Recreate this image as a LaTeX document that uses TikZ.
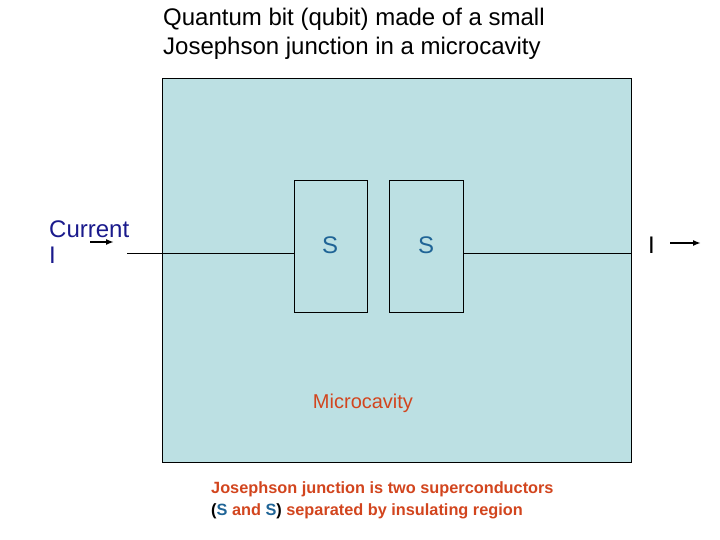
\documentclass[tikz,border=0pt]{standalone}
\usepackage{fontspec}
\usetikzlibrary{arrows.meta}
\setmainfont{Liberation Sans}
\definecolor{cav}{HTML}{BCE0E3}
\definecolor{navy}{HTML}{1A1A8C}
\definecolor{sblue}{HTML}{1F6496}
\definecolor{redt}{HTML}{D2451E}
\begin{document}
\begin{tikzpicture}[x=1pt,y=-1pt,
  sbox/.style={draw,fill=cav,line width=0.6pt},
  lab/.style={anchor=west,inner sep=0pt,font=\fontsize{24}{28}\selectfont},
  wire/.style={line width=0.6pt},
  arr/.style={-{Latex[length=8pt,width=6pt]},line width=1.6pt}]
\useasboundingbox (0,0) rectangle (720,540);
\node[draw,fill=cav,line width=0.6pt,minimum width=469pt,minimum height=384pt,anchor=north west,inner sep=0pt] (cav) at (162,78) {};
\node[sbox,minimum width=73pt,minimum height=132pt,anchor=north west,inner sep=0pt] (s1) at (294,180) {};
\node[sbox,minimum width=74pt,minimum height=132pt,anchor=north west,inner sep=0pt] (s2) at (389,180) {};
\node[lab,text=sblue,anchor=center] (t1) at (330,245) {S};
\node[lab,text=sblue,anchor=center] (t2) at (426,245) {S};
\coordinate (lw) at (127,253);
\coordinate (rw) at (631,253);
\draw[wire] (lw) -- (s1.west|-lw);
\draw[wire] (s2.east|-rw) -- (rw);
\node[lab,text=black] (title) at (163,19) {Quantum bit (qubit) made of a small};
\node[lab,text=black] (title2) at (163,48) {Josephson junction in a microcavity};
\node[lab,text=navy] (cur) at (49,229) {Current};
\node[lab,text=navy] (cur2) at (49,255) {I};
\coordinate (a1) at (90,242); \coordinate (a2) at (114,242);
\draw[arr] (a1) -- (a2);
\node[lab,text=black] (ir) at (648,245) {I};
\coordinate (b1) at (670,243); \coordinate (b2) at (701,243);
\draw[arr] (b1) -- (b2);
\node[lab,text=redt,anchor=center,font=\fontsize{20}{24}\selectfont] (mc) at (363,403) {Microcavity};
\node[lab,text=redt,font=\bfseries\fontsize{16.3}{19}\selectfont] (j1) at (211,489) {Josephson junction is two superconductors};
\node[lab,text=redt,font=\bfseries\fontsize{16.3}{19}\selectfont] (j2) at (211,511) {\textcolor{black}{(}\textcolor{sblue}{S} and \textcolor{sblue}{S}\textcolor{black}{)} separated by insulating region};
\end{tikzpicture}
\end{document}
